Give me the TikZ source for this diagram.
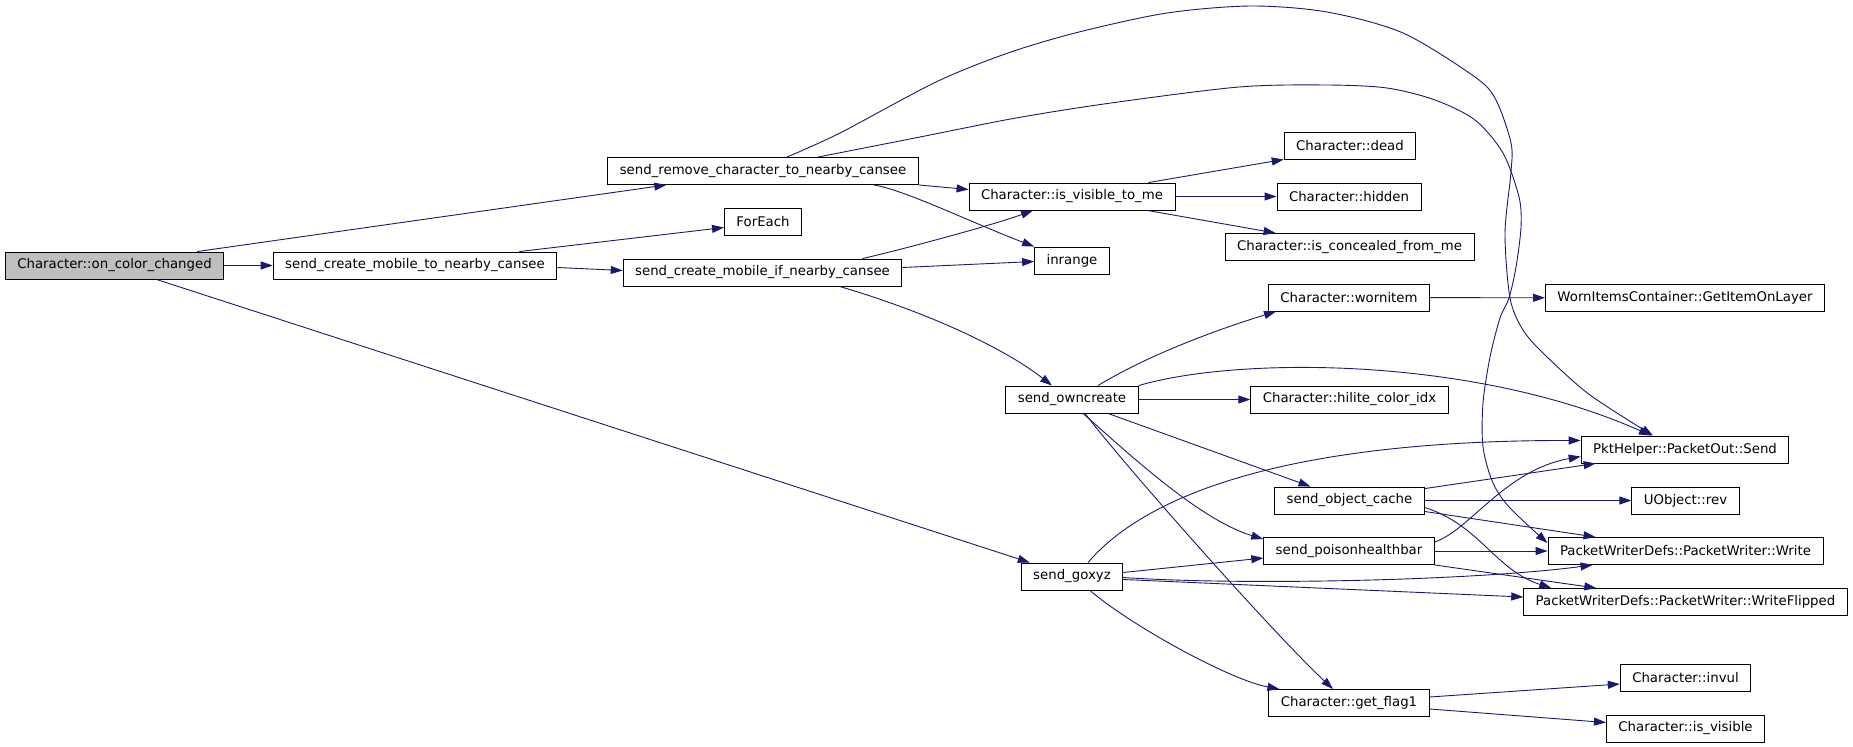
\documentclass[tikz,border=0pt]{standalone}
\usepackage{fontspec}
\setmainfont{DejaVu Sans}
\usepackage{xcolor}
\usepackage{tikz}
\usetikzlibrary{arrows.meta,calc}
\definecolor{edgeblue}{HTML}{191970}
\definecolor{rootgray}{HTML}{BFBFBF}

\begin{document}
\begin{tikzpicture}[x=1pt, y=-1pt,
    func/.style={rectangle, draw, fill=white, line width=0.9pt, inner xsep=12pt, inner ysep=0pt, minimum height=27pt, font=\fontsize{13.3}{16}\selectfont},
    root/.style={func, fill=rootgray},
    call/.style={draw=edgeblue, line width=0.9pt, -{Triangle[length=12pt,width=8pt]}}]
    \useasboundingbox (0,0) rectangle (1853,747);

    % functions
    \node[root] (oncc) at (114.5,265.5) {Character::on\_color\_changed};
    \node[func] (tomob) at (415,265.5) {send\_create\_mobile\_to\_nearby\_cansee};
    \node[func] (rmv) at (763,171) {send\_remove\_character\_to\_nearby\_cansee};
    \node[func] (foreach) at (763,221.5) {ForEach};
    \node[func] (ifmob) at (762.5,272.5) {send\_create\_mobile\_if\_nearby\_cansee};
    \node[func] (visme) at (1072,196.5) {Character::is\_visible\_to\_me};
    \node[func] (inrange) at (1072,260.5) {inrange};
    \node[func] (dead) at (1350,145.5) {Character::dead};
    \node[func] (hidden) at (1349,196.5) {Character::hidden};
    \node[func] (conceal) at (1349.5,247) {Character::is\_concealed\_from\_me};
    \node[func] (wornitem) at (1349,297.5) {Character::wornitem};
    \node[func] (getitem) at (1685,298) {WornItemsContainer::GetItemOnLayer};
    \node[func] (owncreate) at (1072,399.5) {send\_owncreate};
    \node[func] (hilite) at (1349.5,399.5) {Character::hilite\_color\_idx};
    \node[func] (pktsend) at (1685,449.5) {PktHelper::PacketOut::Send};
    \node[func] (objcache) at (1349.5,500.5) {send\_object\_cache};
    \node[func] (uobjrev) at (1685.5,500.5) {UObject::rev};
    \node[func] (poison) at (1349,551) {send\_poisonhealthbar};
    \node[func] (pwwrite) at (1685.5,551) {PacketWriterDefs::PacketWriter::Write};
    \node[func] (goxyz) at (1072,576.5) {send\_goxyz};
    \node[func] (wflip) at (1685.5,602) {PacketWriterDefs::PacketWriter::WriteFlipped};
    \node[func] (getflag) at (1349,703) {Character::get\_flag1};
    \node[func] (invul) at (1685.5,678) {Character::invul};
    \node[func] (isvis) at (1685.5,728.5) {Character::is\_visible};

    % calls from the root
    \draw[call] ([xshift=-27pt]oncc.north east) -- ([xshift=59pt]rmv.south west);
    \draw[call] (oncc) -- (tomob);
    \draw[call] ([xshift=42pt]oncc.south) -- ([xshift=9pt]goxyz.north west);

    \draw[call] ([xshift=-38pt]tomob.north east) -- ([yshift=-6pt]foreach.west);
    \draw[call] ([yshift=-2pt]tomob.east) -- ([yshift=2pt]ifmob.west);

    \draw[call] (rmv.south east) -- ([yshift=7pt]visme.west);
    \draw[call] ([xshift=-45pt]rmv.south east) .. controls (905,190) and (970,222) .. (inrange.north west);
    % the two long arcs over the top
    \draw[call] plot[smooth] coordinates {([xshift=24pt]rmv.north) (840,133) (936,82) (1008,53) (1079,32) (1167,13) (1251,6) (1327,12) (1403,33) (1475,77) (1496,100) (1511,143) (1511,172) (1505,233) (1510,298) (1523,330) (1545,355) (1590,395) ([xshift=-32pt]pktsend.north)};
    \draw[call] plot[smooth] coordinates {([xshift=55pt]rmv.north) (920,137) (1016,118) (1111,103) (1239,87) (1327,85) (1387,88) (1435,100) (1475,120) (1503,153) (1519,197) (1521,227) (1516,267) (1509,298) (1500,318) (1490,357) (1483,403) (1483,447) (1493,483) (1510,508) ([yshift=-6pt]pwwrite.north west)};

    \draw[call] ([xshift=100pt]ifmob.north) .. controls (900,250) and (990,226) .. ([xshift=-39pt]visme.south);
    \draw[call] ([yshift=5pt]ifmob.east) -- ([yshift=-1pt]inrange.west);
    \draw[call] ([xshift=77pt]ifmob.south) .. controls (920,310) and (1000,345) .. ([xshift=-20pt]owncreate.north);

    \draw[call] ([xshift=-27pt]visme.north east) -- (dead.south west);
    \draw[call] (visme) -- (hidden);
    \draw[call] ([xshift=-28pt]visme.south east) -- ([xshift=51pt]conceal.north west);

    \draw[call] ([xshift=26pt]owncreate.north) .. controls (1140,360) and (1200,335) .. ([xshift=8pt]wornitem.south west);
    \draw[call] (owncreate) -- (hilite);
    \draw[call] (owncreate.north east) .. controls (1240,356) and (1475,357) .. ([xshift=-34pt]pktsend.north);
    \draw[call] ([xshift=36pt]owncreate.south) -- ([xshift=-39pt]objcache.north);
    \draw[call] ([xshift=11pt]owncreate.south) .. controls (1130,455) and (1200,520) .. ([yshift=-2pt]poison.north west);
    \draw[call] ([xshift=13pt]owncreate.south) .. controls (1120,460) and (1270,630) .. ([xshift=-16pt]getflag.north);

    \draw[call] ([xshift=16pt]goxyz.north) .. controls (1150,490) and (1300,440) .. ([yshift=9pt]pktsend.west);
    \draw[call] ([yshift=4pt]goxyz.east) -- ([yshift=-7pt]poison.west);
    \draw[call] ([yshift=-1pt]goxyz.east) .. controls (1250,586) and (1480,580) .. ([xshift=45pt]pwwrite.south west);
    \draw[call] ([yshift=-3pt]goxyz.east) -- ([yshift=5pt]wflip.west);
    \draw[call] ([xshift=18pt]goxyz.south) .. controls (1130,625) and (1230,680) .. ([xshift=11pt]getflag.north west);

    \draw[call] ([yshift=-2pt]objcache.north east) -- ([xshift=15pt]pktsend.south west);
    \draw[call] (objcache) -- (uobjrev);
    \draw[call] ([yshift=-11pt]objcache.east) -- ([xshift=48pt]pwwrite.north west);
    \draw[call] ([yshift=-7pt]objcache.east) .. controls (1480,525) and (1495,570) .. ([xshift=28pt]wflip.north west);

    \draw[call] ([yshift=9pt]poison.east) .. controls (1470,530) and (1505,470) .. ([yshift=-7pt]pktsend.west);
    \draw[call] (poison) -- (pwwrite);
    \draw[call] (poison.south east) -- ([xshift=73pt]wflip.north west);

    \draw[call] ([yshift=6pt]getflag.east) -- ([yshift=-6pt]invul.west);
    \draw[call] ([yshift=-6pt]getflag.east) -- ([yshift=6pt]isvis.west);
    \draw[call] (wornitem) -- (getitem);
\end{tikzpicture}
\end{document}
